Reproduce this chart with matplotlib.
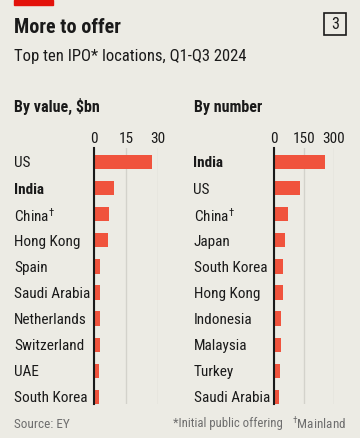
import matplotlib
matplotlib.use("Agg")
import matplotlib.pyplot as plt
from matplotlib.patches import Rectangle
from matplotlib import font_manager as fm

# ---- data ----
value_countries = ["US", "India", "China$^{\\dagger}$", "Hong Kong", "Spain", "Saudi Arabia",
                   "Netherlands", "Switzerland", "UAE", "South Korea"]
value_bn = [27.5, 9.5, 6.8, 6.5, 2.8, 2.7, 2.6, 2.5, 2.3, 2.1]
value_ticks = [0, 15, 30]

number_countries = ["India", "US", "China$^{\\dagger}$", "Japan", "South Korea", "Hong Kong",
                    "Indonesia", "Malaysia", "Turkey", "Saudi Arabia"]
number_ipos = [258, 128, 69, 52, 45, 44, 32, 32, 29, 25]
number_ticks = [0, 150, 300]

# ---- font selection ----
avail = {f.name for f in fm.fontManager.ttflist}
family = "Roboto"
for cand in ["Roboto Condensed", "Liberation Sans Narrow", "Open Sans Condensed",
             "Noto Sans Condensed", "Roboto"]:
    if cand in avail:
        family = cand
        break
plt.rcParams["font.family"] = [family, "DejaVu Sans"]
plt.rcParams["mathtext.fontset"] = "custom"
plt.rcParams["mathtext.rm"] = family
plt.rcParams["mathtext.it"] = family
plt.rcParams["mathtext.bf"] = family

BG = "#ECEBE4"
RED = "#F0533D"
DARK = "#1A1A1A"
GRID = "#D3D2CB"
GREY = "#6E6E6E"

W, H = 360, 438
fig = plt.figure(figsize=(W / 100, H / 100), dpi=100, facecolor=BG)

def fx(px):
    return px / W

def fy(py):
    return 1 - py / H

# red tag
fig.patches.append(Rectangle((fx(14), fy(5)), fx(39), 5 / H, transform=fig.transFigure,
                             color="#E3120B", zorder=5))
# title & subtitle
fig.text(fx(14), fy(33), "More to offer", fontsize=14.5, weight="bold", color=DARK,
         va="baseline")
fig.text(fx(14), fy(61.5), "Top ten IPO* locations, Q1-Q3 2024", fontsize=12, color=DARK,
         va="baseline")
# chart number box
fig.patches.append(Rectangle((fx(324), fy(35)), fx(22), 22 / H, transform=fig.transFigure,
                             fill=False, edgecolor=DARK, lw=1.2))
fig.text(fx(335), fy(24.5), "3", fontsize=11.5, color=DARK, ha="center", va="center")

# panel headings
fig.text(fx(14), fy(112), "By value, $bn", fontsize=11.5, weight="bold", color=DARK,
         va="baseline")
fig.text(fx(193.5), fy(112), "By number", fontsize=11.5, weight="bold", color=DARK,
         va="baseline")

def panel(rect, cats, vals, ticks, bold_idx, label_px):
    ax = fig.add_axes(rect)
    ax.set_facecolor("none")
    n = len(cats)
    ax.barh(range(n), vals, height=0.55, color=RED, zorder=3)
    ax.set_xlim(ticks[0], ticks[-1])
    ax.set_ylim(n - 1 + 0.27, -0.536)
    ax.xaxis.tick_top()
    ax.set_xticks(ticks)
    ax.set_xticklabels([str(t) for t in ticks])
    ax.tick_params(axis="x", length=0, pad=1.5, labelsize=11, colors=DARK)
    ax.set_yticks(range(n))
    ax.set_yticklabels(cats)
    ax.tick_params(axis="y", length=0, pad=label_px * 72 / 100, labelsize=11, colors=DARK)
    for i, lab in enumerate(ax.get_yticklabels()):
        lab.set_horizontalalignment("left")
        if i == bold_idx:
            lab.set_fontweight("bold")
    ax.grid(axis="x", color=GRID, lw=1, zorder=0)
    for s in ["top", "right", "bottom"]:
        ax.spines[s].set_visible(False)
    ax.spines["left"].set_color(DARK)
    ax.spines["left"].set_linewidth(1.5)
    ax.spines["left"].set_zorder(4)
    return ax

bottom = fy(404)
height = (404 - 148) / H
panel([fx(94.3), bottom, fx(63.4), height], value_countries, value_bn, value_ticks, 1, 94.3 - 14)
panel([fx(274.3), bottom, fx(59.4), height], number_countries, number_ipos, number_ticks, 0,
      274.3 - 193.5)

# footer
fig.text(fx(14), fy(424), "Source: EY", fontsize=9.5, color=GREY, va="center")
fig.text(fx(283), fy(424), "*Initial public offering", fontsize=9.2, color=GREY, va="center",
         ha="right")
fig.text(fx(346), fy(424), "$^{\\dagger}$Mainland", fontsize=9.5, color=GREY, va="center",
         ha="right")

fig.savefig("out.png", dpi=100, facecolor=BG)
